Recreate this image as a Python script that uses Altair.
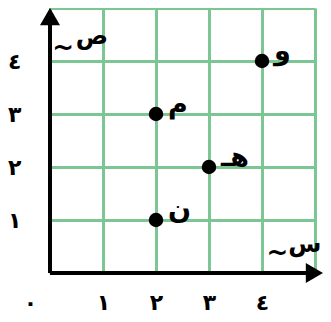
import altair as alt
import pandas as pd

# point data
px = [4, 2, 3, 2]
py = [4, 3, 2, 1]
names = ["و", "م", "هـ", "ن"]

# tick labels
x_ticks = [0, 1, 2, 3, 4, 5]
x_tick_labels = ["٠", "١", "٢", "٣", "٤", ""]
y_ticks = [0, 1, 2, 3, 4, 5]
y_tick_labels = ["", "١", "٢", "٣", "٤", ""]

# axis names (letter + swash)
axis_names = ["ص", "س"]
axis_name_x = [0.79, 4.81]
axis_name_y = [4.45, 0.53]
swash_x = [0.25, 4.29]
swash_y = [4.25, 0.38]

GREEN = "#7CC694"
FONT = "DejaVu Sans"

xs = alt.Scale(domain=[0, 5], nice=False, zero=False)
ys = alt.Scale(domain=[0, 5], nice=False, zero=False)

def arr(lbls):
    return "[" + ",".join("'" + s + "'" for s in lbls) + "][datum.value]"

pts_df = pd.DataFrame({"x": px, "y": py, "name": names})

base = alt.Chart(pts_df)

grid = base.mark_point(opacity=0).encode(
    x=alt.X("x:Q", scale=xs, axis=alt.Axis(
        values=x_ticks, labelExpr=arr(x_tick_labels), grid=True, gridColor=GREEN,
        gridWidth=3, domain=False, ticks=False, labelPadding=19, labelFontSize=22,
        labelFont=FONT, labelFontWeight="bold", labelColor="black", title=None,
        labelOffset=alt.condition("datum.value == 0", alt.value(-20), alt.value(0)),
        labelFlush=False, labelOverlap=False)),
    y=alt.Y("y:Q", scale=ys, axis=alt.Axis(
        values=y_ticks, labelExpr=arr(y_tick_labels), grid=True, gridColor=GREEN,
        gridWidth=3, domain=False, ticks=False, labelPadding=29, labelFontSize=22,
        labelFont=FONT, labelFontWeight="bold", labelColor="black", title=None,
        labelFlush=False, labelOverlap=False)),
)

xaxis_line = alt.Chart(pd.DataFrame({"x": [0], "x2": [4.85], "y": [0]})).mark_rule(
    color="black", strokeWidth=4).encode(
    x=alt.X("x:Q", scale=xs), x2="x2:Q", y=alt.Y("y:Q", scale=ys))
yaxis_line = alt.Chart(pd.DataFrame({"x": [0], "y": [0], "y2": [4.8]})).mark_rule(
    color="black", strokeWidth=4).encode(
    x=alt.X("x:Q", scale=xs), y=alt.Y("y:Q", scale=ys), y2="y2:Q")

arrow_up = alt.Chart(pd.DataFrame({"x": [0], "y": [4.84]})).mark_point(
    shape="triangle-up", filled=True, color="black", size=400, opacity=1).encode(
    x=alt.X("x:Q", scale=xs), y=alt.Y("y:Q", scale=ys))
arrow_right = alt.Chart(pd.DataFrame({"x": [4.99], "y": [0]})).mark_point(
    shape="triangle-right", filled=True, color="black", size=400, opacity=1).encode(
    x=alt.X("x:Q", scale=xs), y=alt.Y("y:Q", scale=ys))

dots = base.mark_circle(size=210, color="black", opacity=1).encode(
    x=alt.X("x:Q", scale=xs), y=alt.Y("y:Q", scale=ys))

labels = base.mark_text(align="left", baseline="middle", dx=12, dy=-9,
                        fontSize=27, font=FONT, fontWeight="bold", color="black").encode(
    x=alt.X("x:Q", scale=xs), y=alt.Y("y:Q", scale=ys), text="name:N")

names_df = pd.DataFrame({"x": axis_name_x, "y": axis_name_y, "t": axis_names})
axis_lbls = alt.Chart(names_df).mark_text(align="center", baseline="middle",
                                           fontSize=24, font=FONT, fontWeight="bold",
                                           color="black").encode(
    x=alt.X("x:Q", scale=xs), y=alt.Y("y:Q", scale=ys), text="t:N")

swash_df = pd.DataFrame({"x": swash_x, "y": swash_y})
swash = alt.Chart(swash_df).mark_text(align="center", baseline="middle", text="~",
                                       fontSize=26, font=FONT, fontWeight="bold",
                                       color="black").encode(
    x=alt.X("x:Q", scale=xs), y=alt.Y("y:Q", scale=ys))

chart = alt.layer(grid, xaxis_line, yaxis_line, arrow_up, arrow_right, dots, labels,
                  swash, axis_lbls).properties(
    width=265, height=265,
    autosize=alt.AutoSizeParams(type="none"),
    padding={"left": 42, "top": 0, "right": 8, "bottom": 41},
).configure_view(stroke=None)

chart.save("out.html", embed_options={"renderer": "svg", "actions": False})
